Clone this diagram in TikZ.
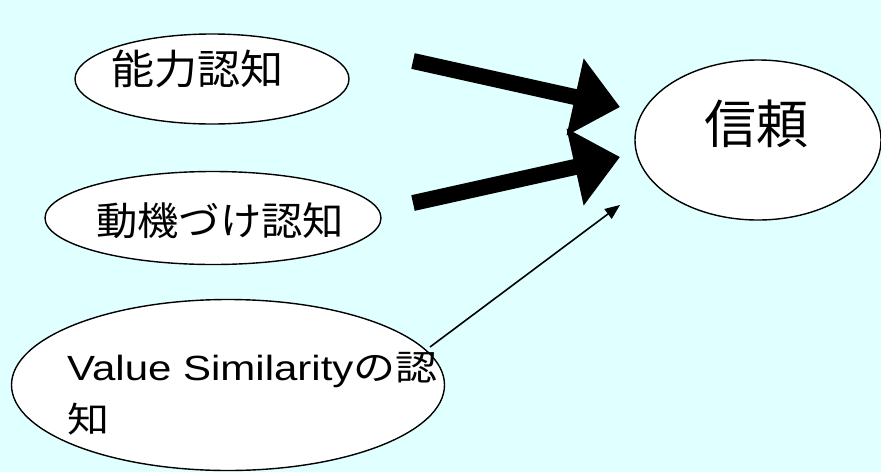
\documentclass[tikz,border=0pt]{standalone}
\usepackage{fontspec}
\setmainfont{Liberation Sans}
\newfontfamily\jp{Noto Sans CJK JP}
\usetikzlibrary{shapes.geometric,arrows.meta}
\definecolor{bgcyan}{HTML}{E0FFFF}
\tikzset{
  ell/.style={ellipse, draw=black, line width=1.4pt, fill=white, inner sep=0pt},
  txt/.style={anchor=base west, inner sep=0pt, text=black},
  bigarrow/.style={line width=16pt, -{Triangle[length=46pt,width=76pt]}},
  thinarrow/.style={line width=1.6pt, -{Triangle[length=15pt,width=12pt]}},
}
\begin{document}
\begin{tikzpicture}[x=1pt,y=-1pt]
\fill[bgcyan] (0,0) rectangle (881,472);
\useasboundingbox (0,0) rectangle (881,472);
% ellipses
\node[ell, minimum width=274pt, minimum height=90pt] (e1) at (212,79) {};
\node[ell, minimum width=336pt, minimum height=93pt] (e2) at (213,218) {};
\node[ell, minimum width=433pt, minimum height=171pt] (e3) at (228,385) {};
\node[ell, minimum width=246pt, minimum height=160pt] (e4) at (758,140) {};
% texts
\node[txt] (t1) at (111,84) {\scalebox{1.05}[1]{\jp\fontsize{41}{49}\selectfont 能力認知}};
\node[txt] (t2) at (96,235) {\scalebox{1.06}[1]{\jp\fontsize{39}{47}\selectfont 動機づけ認知}};
\node[txt] (t4) at (704.5,143.5) {\jp\fontsize{52}{60}\selectfont 信頼};
\node[txt] (t3) at (67,380) {\scalebox{1.2}[1]{\fontsize{35}{52}\selectfont\begin{tabular}[t]{@{}l@{}}Value Similarity{\jp の認}\\{\jp 知}\end{tabular}}};
% arrow end points
\coordinate (a1s) at (413,61);
\coordinate (a1e) at (620,107);
\coordinate (a2s) at (413,203);
\coordinate (a2e) at (620,157);
\coordinate (a3s) at (430,347);
\coordinate (a3e) at (620,205);
\draw[bigarrow] (a1s) -- (a1e);
\draw[bigarrow] (a2s) -- (a2e);
\draw[thinarrow] (a3s) -- (a3e);
\end{tikzpicture}
\end{document}
